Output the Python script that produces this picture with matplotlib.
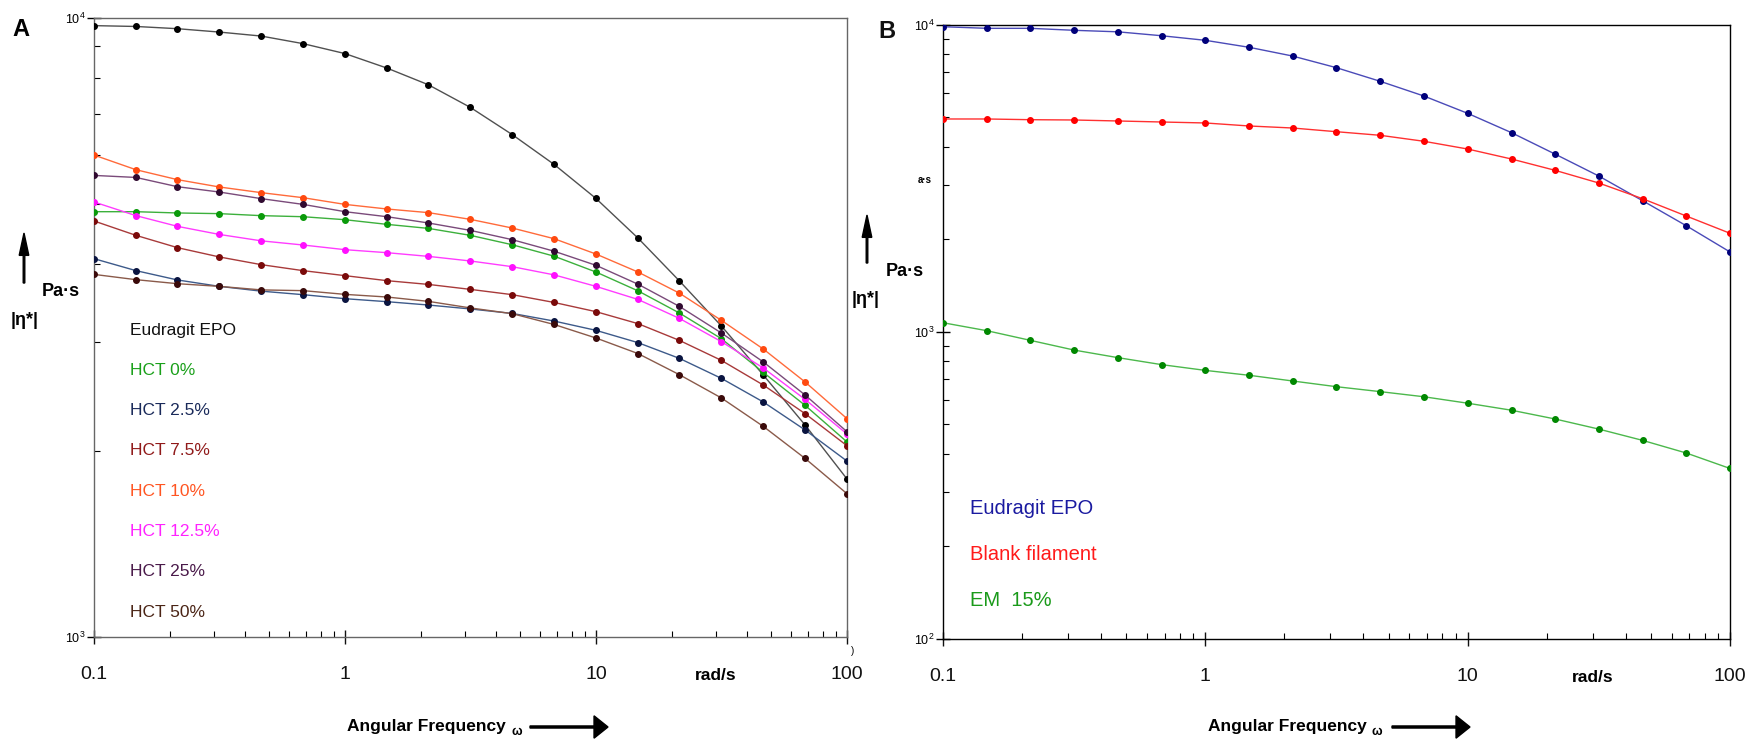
import numpy as np
import matplotlib.pyplot as plt
from matplotlib.patches import FancyArrow
from matplotlib.ticker import LogLocator, NullFormatter, FixedLocator, FixedFormatter

# Частоты (rad/s), 6 точек на декаду
omega = [0.1, 0.147, 0.215, 0.316, 0.464, 0.681, 1.0, 1.47, 2.15, 3.16,
         4.64, 6.81, 10.0, 14.7, 21.5, 31.6, 46.4, 68.1, 100.0]

# Панель A: |eta*| (Pa.s)
eudragit_a = [9720, 9690, 9610, 9490, 9350, 9090, 8760, 8300, 7800, 7170,
              6480, 5800, 5110, 4410, 3760, 3180, 2650, 2200, 1800]
hct_0 = [4865, 4865, 4842, 4830, 4794, 4775, 4722, 4641, 4572, 4455,
         4302, 4123, 3887, 3624, 3337, 3033, 2676, 2367, 2066]
hct_2_5 = [4085, 3907, 3774, 3685, 3620, 3573, 3520, 3481, 3438, 3388,
           3332, 3239, 3129, 2989, 2819, 2617, 2397, 2160, 1924]
hct_7_5 = [4700, 4455, 4256, 4111, 3995, 3907, 3835, 3764, 3712, 3644,
           3573, 3471, 3354, 3208, 3014, 2798, 2553, 2295, 2037]
hct_10 = [6006, 5687, 5481, 5333, 5222, 5125, 4999, 4914, 4848, 4728,
          4578, 4400, 4156, 3887, 3593, 3247, 2919, 2582, 2253]
hct_12_5 = [5044, 4794, 4607, 4470, 4365, 4298, 4224, 4177, 4120, 4050,
            3965, 3846, 3685, 3510, 3271, 3000, 2720, 2420, 2128]
hct_25 = [5568, 5526, 5339, 5234, 5107, 4999, 4865, 4775, 4665, 4538,
          4384, 4200, 3985, 3715, 3420, 3098, 2782, 2460, 2146]
hct_50 = [3853, 3778, 3722, 3685, 3637, 3627, 3577, 3542, 3485, 3401,
          3329, 3198, 3041, 2870, 2653, 2433, 2189, 1943, 1704]

# Панель B
eudragit_b = [9835, 9717, 9717, 9574, 9466, 9192, 8882, 8427, 7894, 7233,
              6531, 5849, 5136, 4442, 3786, 3210, 2668, 2211, 1816]
blank_filament = [4923, 4923, 4897, 4886, 4850, 4813, 4778, 4671, 4601, 4475,
                  4356, 4165, 3930, 3646, 3351, 3046, 2708, 2378, 2089]
em_15 = [1068, 1006, 936, 870, 822, 780, 747, 720, 690, 661,
         637, 613, 584, 554, 519, 481, 442, 402, 358]

labels_a = ['Eudragit EPO', 'HCT 0%', 'HCT 2.5%', 'HCT 7.5%', 'HCT 10%',
            'HCT 12.5%', 'HCT 25%', 'HCT 50%']
series_a = [eudragit_a, hct_0, hct_2_5, hct_7_5, hct_10, hct_12_5, hct_25, hct_50]
line_colors_a = ['#505050', '#3cb03c', '#3d5a8a', '#a83a3a', '#ff6a3a',
                 '#ff3cff', '#7a4a7a', '#8a5a4a']
marker_colors_a = ['#000000', '#0a9a0a', '#0a1440', '#7a0a0a', '#ff4a10',
                   '#ff10ff', '#300a30', '#3a0a0a']
text_colors_a = ['#111111', '#1aa01a', '#1a2a5a', '#901a1a', '#ff5522',
                 '#ff22ff', '#4a1a4a', '#4a2415']

labels_b = ['Eudragit EPO', 'Blank filament', 'EM  15%']
series_b = [eudragit_b, blank_filament, em_15]
line_colors_b = ['#4a4ab8', '#ff3030', '#4cb84c']
marker_colors_b = ['#00007a', '#ff0000', '#008800']
text_colors_b = ['#1a1aa0', '#ff1a1a', '#1a9a1a']

W, H = 1746, 745
sans = ['Liberation Sans', 'DejaVu Sans']

fig = plt.figure(figsize=(W / 100, H / 100), dpi=100)


def fx(px):
    return px / W


def fy(py):
    return 1 - py / H


ax_a = fig.add_axes([fx(94), fy(637), fx(847 - 94), (637 - 18) / H])
ax_b = fig.add_axes([fx(943), fy(638.5), fx(1730 - 943), (638.5 - 24.5) / H])

for s, lc, mc in zip(series_a, line_colors_a, marker_colors_a):
    ax_a.plot(omega, s, color=lc, lw=1.0, marker='o', ms=4, mfc=mc, mec=mc, zorder=3)
for s, lc, mc in zip(series_b, line_colors_b, marker_colors_b):
    ax_b.plot(omega, s, color=lc, lw=1.0, marker='o', ms=4, mfc=mc, mec=mc, zorder=3)

ax_a.set_ylim(1000, 10000)
ax_b.set_ylim(100, 10000)

for ax, spine_col in [(ax_a, '#666666'), (ax_b, '#000000')]:
    ax.set_xscale('log')
    ax.set_yscale('log')
    ax.set_xlim(0.1, 100)
    for sp in ax.spines.values():
        sp.set_color(spine_col)
        sp.set_linewidth(1.0)
    ax.xaxis.set_major_locator(FixedLocator([0.1, 1, 10, 100]))
    ax.xaxis.set_major_formatter(FixedFormatter(['0.1', '1', '10', '100']))
    ax.xaxis.set_minor_locator(LogLocator(base=10, subs=np.arange(2, 10)))
    ax.xaxis.set_minor_formatter(NullFormatter())
    ax.yaxis.set_minor_locator(LogLocator(base=10, subs=np.arange(2, 10)))
    ax.yaxis.set_minor_formatter(NullFormatter())
    ax.tick_params(axis='x', which='major', direction='inout', length=10,
                   width=1, pad=16, labelsize=14, colors='#111111')
    ax.tick_params(axis='x', which='minor', direction='in', length=4, width=0.8)
    ax.tick_params(axis='y', which='major', direction='inout', length=10,
                   width=1, pad=1, labelsize=9)
    ax.tick_params(axis='y', which='minor', direction='in', length=4, width=0.8)
    for lab in ax.get_xticklabels() + ax.get_yticklabels():
        lab.set_family(sans)
    ax.annotate('rad/s', xy=(30, 0), xycoords=('data', 'axes fraction'),
                xytext=(0, -28), textcoords='offset points', ha='center',
                va='center', fontsize=12.5, family=sans, fontweight='bold')

# Подписи осей
for x0, arrow_x0 in [(347, 530), (1208, 1392)]:
    fig.text(fx(x0), fy(727), 'Angular Frequency', fontsize=12.5, family=sans,
             fontweight='bold', va='center', ha='left')
    fig.text(fx(x0 + 164), fy(732), 'ω', fontsize=9, family=sans,
             fontweight='bold', va='center', ha='left')
    fig.add_artist(FancyArrow(
        fx(arrow_x0), fy(727), fx(78), 0, width=0.0028, head_width=0.03,
        head_length=0.008, length_includes_head=True, color='black',
        transform=fig.transFigure))

for ax_x, top, bottom, pas_xy, eta_xy in [(24, 233, 283, (61, 291), (25, 320)),
                                         (867, 215, 263, (905, 272), (866, 300))]:
    fig.add_artist(FancyArrow(
        fx(ax_x), fy(bottom), 0, (bottom - top) / H, width=0.0009,
        head_width=0.0055, head_length=0.03, length_includes_head=True,
        color='black', transform=fig.transFigure))
    fig.text(fx(pas_xy[0]), fy(pas_xy[1]), 'Pa·s', fontsize=13, family=sans,
             fontweight='bold', ha='center', va='center')
    fig.text(fx(eta_xy[0]), fy(eta_xy[1]), '|η*|', fontsize=13, family=sans,
             fontweight='bold', ha='center', va='center')

fig.text(fx(925), fy(180), 'a·s', fontsize=7, family=sans, fontweight='bold',
         ha='center', va='center')
fig.text(fx(853), fy(651), ')', fontsize=7, family=sans, ha='center', va='center')

fig.text(fx(21), fy(30), 'A', fontsize=17, family=sans, fontweight='bold',
         ha='center', va='center')
fig.text(fx(887), fy(31), 'B', fontsize=17, family=sans, fontweight='bold',
         ha='center', va='center', color='#111111')

# Подписи серий
for i, (lab, col) in enumerate(zip(labels_a, text_colors_a)):
    fig.text(fx(130), fy(330 + 40.3 * i), lab, fontsize=12.5, family=sans,
             color=col, ha='left', va='center')
for i, (lab, col) in enumerate(zip(labels_b, text_colors_b)):
    fig.text(fx(970), fy(509 + 46 * i), lab, fontsize=14.5, family=sans,
             color=col, ha='left', va='center')

fig.savefig('out.png', dpi=100, facecolor='white')
